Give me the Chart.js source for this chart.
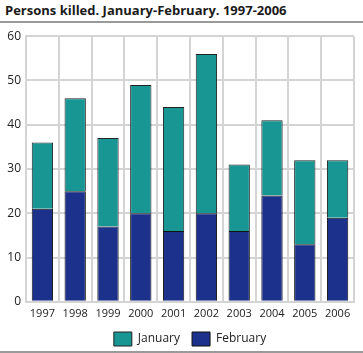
<!DOCTYPE html>
<html><head><meta charset="utf-8">
<script src="https://cdn.jsdelivr.net/npm/chart.js@4/dist/chart.umd.min.js"></script>
<style>
html,body{margin:0;padding:0;background:#fff;width:363px;height:353px;overflow:hidden;font-family:"Open Sans",sans-serif;}
#title{position:absolute;left:5px;top:1px;font-size:13px;font-weight:bold;color:#1a1a1a;white-space:nowrap;}
#topline{position:absolute;left:0;top:21px;width:363px;height:2px;background:#9a9a9a;}
#botline{position:absolute;left:0;top:351px;width:363px;height:2px;background:#9a9a9a;}
#wrap{position:absolute;left:0;top:24px;width:363px;height:326px;}
</style></head><body>
<div id="title">Persons killed. January-February. 1997-2006</div>
<div id="topline"></div>
<div id="wrap"><canvas id="c"></canvas></div>
<div id="botline"></div>
<script>
const categories = ["1997","1998","1999","2000","2001","2002","2003","2004","2005","2006"];
const january = [15,21,20,29,28,36,15,17,19,13];
const february = [21,25,17,20,16,20,16,24,13,19];
const yTicks = [0,10,20,30,40,50,60];

new Chart(document.getElementById('c'), {
  type: 'bar',
  data: {
    labels: categories,
    datasets: [
      {label:'February', data:february, backgroundColor:'#1b318b', borderColor:'#111', borderWidth:1, barPercentage:0.65, categoryPercentage:1},
      {label:'January', data:january, backgroundColor:'#189694', borderColor:'#222', borderWidth:1, barPercentage:0.65, categoryPercentage:1}
    ]
  },
  options: {
    responsive:true, maintainAspectRatio:false, animation:false,
    layout:{padding:{top:6,right:9,left:2,bottom:-6}},
    plugins:{
      tooltip:{enabled:false},
      legend:{position:'bottom', reverse:true, fullSize:false,
        labels:{boxWidth:18, boxHeight:14, color:'#222', font:{family:'"Open Sans"', size:12}, padding:12}}
    },
    scales:{
      x:{stacked:true,
        afterFit: ax => { ax.height -= 5; },
        grid:{color:'#d4d4d4', lineWidth:2, offset:true, drawTicks:false},
        border:{color:'#d4d4d4', width:2},
        ticks:{color:'#222', font:{family:'"Open Sans"', size:11}, padding:5, maxRotation:0, minRotation:0, autoSkip:false}},
      y:{stacked:true, min:0, max:60,
        afterBuildTicks: ax => { ax.ticks = yTicks.map(v=>({value:v})); },
        afterFit: ax => { ax.width = 24; },
        grid:{color:'#d4d4d4', lineWidth:2, drawTicks:false},
        border:{color:'#d4d4d4', width:2},
        ticks:{color:'#222', font:{family:'"Open Sans"', size:12}, padding:5}}
    }
  }
});
</script>
</body></html>
